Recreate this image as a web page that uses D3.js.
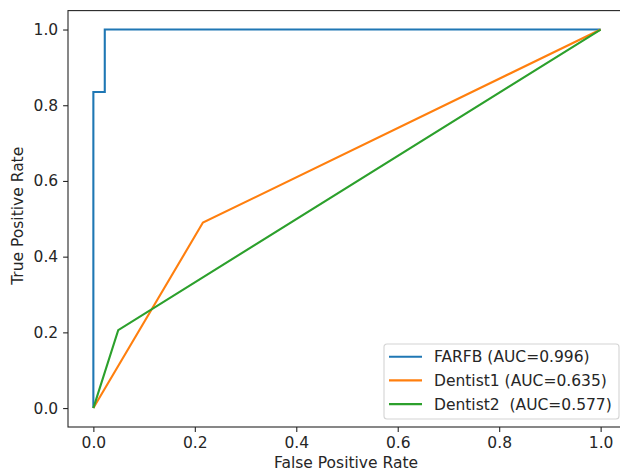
<!DOCTYPE html>
<html>
<head>
<meta charset="utf-8">
<script src="https://cdn.jsdelivr.net/npm/d3@7"></script>
<style>
body { margin: 0; background: #fff; }
text { font-family: "DejaVu Sans", sans-serif; fill: #262626; }
</style>
</head>
<body>
<script>
"use strict";
var svg_width = 620;
var svg_height = 474;
var font_size = "15.5px";

// ROC curves
var series_names = ["FARFB (AUC=0.996)", "Dentist1 (AUC=0.635)", "Dentist2  (AUC=0.577)"];
var series_colors = ["#1f77b4", "#ff7f0e", "#2ca02c"];
var farfb_fpr = [0, 0, 0.0225, 0.0225, 1];
var farfb_tpr = [0, 0.835, 0.835, 1, 1];
var dentist1_fpr = [0, 0.216, 1];
var dentist1_tpr = [0, 0.49, 1];
var dentist2_fpr = [0, 0.049, 1];
var dentist2_tpr = [0, 0.206, 1];
var tick_values = [0, 0.2, 0.4, 0.6, 0.8, 1.0];

var curves = [
    d3.zip(farfb_fpr, farfb_tpr),
    d3.zip(dentist1_fpr, dentist1_tpr),
    d3.zip(dentist2_fpr, dentist2_tpr)
];

var plot_left = 68, plot_right = 626, plot_top = 10.6, plot_bottom = 427;

var svg = d3.select("body").append("svg")
    .attr("width", svg_width)
    .attr("height", svg_height);

var xscale = d3.scaleLinear().domain([-0.05, 1.05]).range([plot_left, plot_right]);
var yscale = d3.scaleLinear().domain([-0.05, 1.05]).range([plot_bottom, plot_top]);

var line = d3.line()
    .x(function(d) { return xscale(d[0]); })
    .y(function(d) { return yscale(d[1]); });

svg.selectAll("path.curve")
    .data(curves)
    .enter()
    .append("path")
    .attr("class", "curve")
    .attr("d", line)
    .attr("fill", "none")
    .attr("stroke", function(d, i) { return series_colors[i]; })
    .attr("stroke-width", 2.1)
    .attr("stroke-linejoin", "miter");

// axes, matplotlib style
var xaxis = d3.axisBottom(xscale).tickValues(tick_values).tickFormat(d3.format(".1f"))
    .tickSize(4.9).tickPadding(4.9).tickSizeOuter(0);
var yaxis = d3.axisLeft(yscale).tickValues(tick_values).tickFormat(d3.format(".1f"))
    .tickSize(4.9).tickPadding(4.9).tickSizeOuter(0);

var gx = svg.append("g")
    .attr("transform", "translate(0," + plot_bottom + ")")
    .call(xaxis);
var gy = svg.append("g")
    .attr("transform", "translate(" + plot_left + ",0)")
    .call(yaxis);
[gx, gy].forEach(function(g)
{
    g.select(".domain").remove();
    g.selectAll(".tick line").attr("stroke", "#262626").attr("stroke-width", 1.1);
    g.selectAll(".tick text")
        .attr("font-size", font_size)
        .attr("font-family", "DejaVu Sans, sans-serif")
        .attr("fill", "#262626");
});

// frame
svg.append("rect")
    .attr("x", plot_left)
    .attr("y", plot_top)
    .attr("width", plot_right - plot_left)
    .attr("height", plot_bottom - plot_top)
    .attr("fill", "none")
    .attr("stroke", "#262626")
    .attr("stroke-width", 1.1);

svg.append("text")
    .attr("x", 346)
    .attr("y", 468)
    .attr("text-anchor", "middle")
    .attr("font-size", font_size)
    .text("False Positive Rate");

svg.append("text")
    .attr("transform", "translate(22.5," + ((plot_top + plot_bottom) / 2 - 3) + ") rotate(-90)")
    .attr("text-anchor", "middle")
    .attr("font-size", font_size)
    .text("True Positive Rate");

// legend
var legend = svg.append("g").attr("transform", "translate(384,344)");
legend.append("rect")
    .attr("width", 235)
    .attr("height", 75)
    .attr("rx", 3)
    .attr("fill", "#fff")
    .attr("fill-opacity", 0.8)
    .attr("stroke", "#d4d4d4")
    .attr("stroke-width", 1.1);
var legend_row = legend.selectAll("g.row")
    .data(series_names)
    .enter()
    .append("g")
    .attr("class", "row")
    .attr("transform", function(d, i) { return "translate(0," + (12.7 + i * 23.7) + ")"; });
legend_row.append("line")
    .attr("x1", 5).attr("x2", 38)
    .attr("stroke", function(d, i) { return series_colors[i]; })
    .attr("stroke-width", 2.1);
legend_row.append("text")
    .attr("x", 50)
    .attr("dy", "0.36em")
    .attr("font-size", font_size)
    .style("white-space", "pre")
    .text(function(d) { return d; });
</script>
</body>
</html>
